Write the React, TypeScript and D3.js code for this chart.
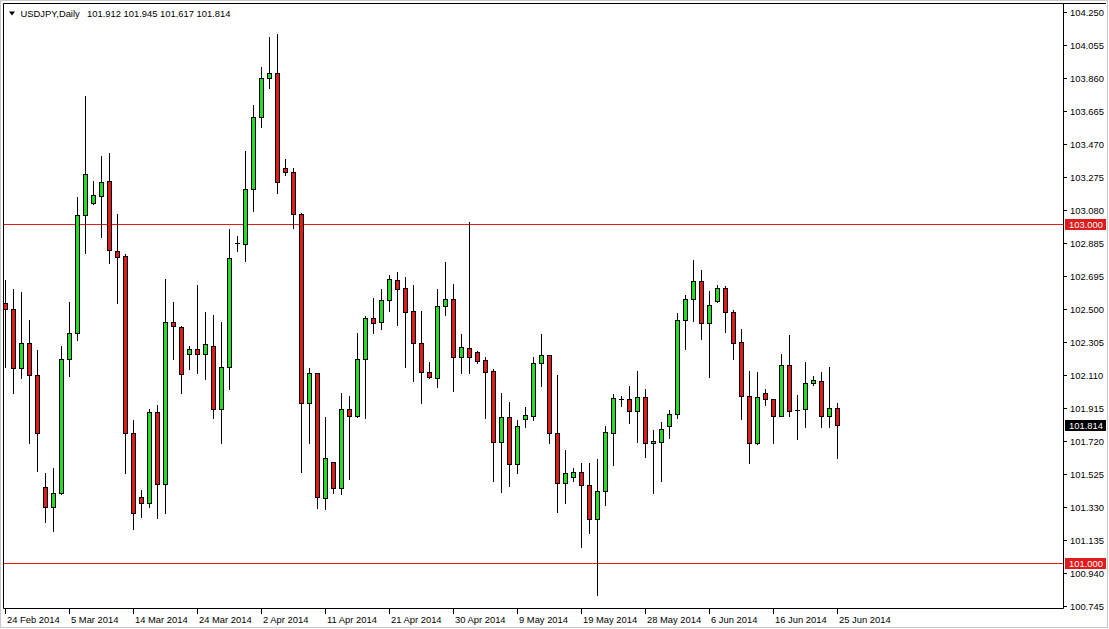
import React from "react";
import * as d3 from "d3";

const symbolTitle = "USDJPY,Daily";
const headerValues = "101.912 101.945 101.617 101.814";

const openP = [
  102.532, 102.497, 102.149, 102.296, 102.107, 101.45, 101.329, 101.411, 102.202, 102.355,
  103.051, 103.122, 103.168, 103.252, 102.841, 102.811, 101.765, 101.388, 101.352, 101.889,
  101.464, 102.424, 102.394, 102.233, 102.261, 102.233, 102.282, 101.909, 102.155, 102.886,
  102.88, 103.205, 103.63, 103.86, 103.889, 103.329, 103.309, 103.057, 101.942, 102.119,
  101.382, 101.594, 101.441, 101.907, 101.867, 102.202, 102.444, 102.424, 102.552, 102.67,
  102.621, 102.487, 102.296, 102.125, 102.09, 102.516, 102.556, 102.217, 102.267, 102.247,
  102.198, 102.133, 101.716, 101.86, 101.582, 101.848, 101.869, 102.178, 102.225, 101.765,
  101.474, 101.509, 101.537, 101.458, 101.258, 101.425, 101.765, 101.968, 101.968, 101.899,
  101.979, 101.706, 101.716, 101.81, 101.877, 102.434, 102.556, 102.662, 102.414, 102.544,
  102.621, 102.479, 102.302, 101.987, 101.706, 102.001, 101.966, 101.869, 102.166, 101.903,
  101.907, 102.06, 102.072, 101.869, 101.912,
];
const highP = [
  102.67, 102.615, 102.601, 102.434, 102.257, 101.533, 101.559, 102.28, 102.538, 103.161,
  103.757, 103.254, 103.401, 103.421, 103.059, 102.823, 101.844, 101.431, 101.907, 101.932,
  102.674, 102.538, 102.398, 102.28, 102.638, 102.479, 102.463, 102.422, 102.971, 102.929,
  103.431, 103.702, 103.924, 104.105, 104.121, 103.382, 103.329, 103.067, 102.149, 102.122,
  101.863, 101.598, 102.005, 101.985, 102.359, 102.457, 102.562, 102.615, 102.699, 102.719,
  102.686, 102.64, 102.487, 102.184, 102.615, 102.778, 102.646, 102.351, 103.014, 102.25,
  102.214, 102.143, 102.001, 101.952, 101.844, 101.919, 102.217, 102.351, 102.23, 102.109,
  101.667, 101.559, 101.588, 101.592, 101.612, 101.808, 101.997, 101.987, 102.044, 102.135,
  102.025, 101.785, 101.834, 101.903, 102.473, 102.581, 102.788, 102.729, 102.605, 102.638,
  102.634, 102.493, 102.379, 102.135, 102.125, 102.025, 101.97, 102.233, 102.345, 101.991,
  102.184, 102.103, 102.127, 102.158, 101.945,
];
const lowP = [
  102.158, 102.003, 102.091, 101.71, 101.545, 101.244, 101.191, 101.405, 102.103, 102.316,
  102.831, 103.118, 102.925, 102.768, 102.536, 101.529, 101.199, 101.273, 101.332, 101.267,
  101.293, 102.202, 102.005, 102.143, 102.119, 102.084, 101.854, 101.71, 102.025, 102.839,
  102.782, 103.077, 103.574, 103.801, 103.185, 103.289, 102.978, 101.539, 101.71, 101.323,
  101.317, 101.415, 101.407, 101.494, 101.86, 101.854, 102.355, 102.379, 102.489, 102.404,
  102.155, 102.076, 101.946, 102.092, 102.037, 102.463, 102.017, 102.119, 102.123, 102.178,
  101.854, 101.486, 101.421, 101.454, 101.533, 101.801, 101.844, 102.044, 101.71, 101.303,
  101.352, 101.484, 101.093, 101.179, 100.811, 101.342, 101.578, 101.928, 101.828, 101.716,
  101.627, 101.415, 101.486, 101.739, 101.854, 102.261, 102.429, 102.322, 102.099, 102.54,
  102.365, 102.204, 101.85, 101.592, 101.7, 101.932, 101.71, 101.865, 101.869, 101.73,
  101.804, 102.052, 101.804, 101.804, 101.617,
];
const closeP = [
  102.497, 102.149, 102.296, 102.107, 101.765, 101.329, 101.411, 102.202, 102.355, 103.051,
  103.293, 103.171, 103.246, 102.847, 102.807, 101.765, 101.293, 101.352, 101.889, 101.464,
  102.424, 102.398, 102.113, 102.261, 102.233, 102.29, 101.909, 102.155, 102.798, 102.886,
  103.205, 103.63, 103.86, 103.889, 103.246, 103.309, 103.057, 101.942, 102.119, 101.388,
  101.618, 101.441, 101.907, 101.867, 102.202, 102.444, 102.418, 102.552, 102.674, 102.615,
  102.483, 102.3, 102.125, 102.096, 102.516, 102.556, 102.217, 102.273, 102.217, 102.194,
  102.129, 101.716, 101.86, 101.582, 101.808, 101.873, 102.178, 102.225, 101.769, 101.474,
  101.529, 101.537, 101.458, 101.258, 101.425, 101.771, 101.972, 101.968, 101.899, 101.979,
  101.706, 101.718, 101.789, 101.879, 102.434, 102.556, 102.662, 102.414, 102.52, 102.621,
  102.479, 102.296, 101.987, 101.706, 101.981, 101.966, 101.869, 102.166, 101.899, 101.903,
  102.064, 102.078, 101.869, 101.913, 101.814,
];

const priceTicks = [
  104.25, 104.055, 103.86, 103.665, 103.47, 103.275, 103.08, 102.885, 102.695, 102.5,
  102.305, 102.11, 101.915, 101.72, 101.525, 101.33, 101.135, 100.94, 100.745,
];
const levelLines = [103.0, 101.0];
const lastPrice = 101.814;
const firstDate = new Date(2014, 1, 24);
const labelEvery = 8;

// trading calendar of this broker: every day except Saturday
function buildDates(start: Date, n: number): Date[] {
  const out: Date[] = [];
  let d = new Date(start);
  while (out.length < n) {
    if (d.getDay() !== 6) out.push(new Date(d));
    d = d3.timeDay.offset(d, 1);
  }
  return out;
}

const W = 1109;
const H = 629;
const FONT = "'Liberation Sans', Arial, sans-serif";
const FS = 9.4;
const GREEN = "#22dd22";
const RED = "#e01b1b";
const LEVEL = "#e01b1b";

export default function App() {
  const n = openP.length;
  const dates = buildDates(firstDate, n);
  const fmt = d3.timeFormat("%-d %b %Y");

  const plotL = 3.5, plotR = 1063.5, plotT = 3.5, plotB = 608.5;

  const x = d3.scaleLinear().domain([0, n - 1]).range([5, 5 + 8 * (n - 1)]);
  const y = d3.scaleLinear().domain([101, 103]).range([563, 224]);
  const py = (v: number) => Math.round(y(v));

  const candles = d3.range(n).map((i) => {
    const c = Math.round(x(i));
    const o = openP[i], h = highP[i], l = lowP[i], cl = closeP[i];
    const yo = py(o), yc = py(cl), yh = py(h), yl = py(l);
    const top = Math.min(yo, yc), bot = Math.max(yo, yc);
    const bull = cl > o;
    const doji = bot - top < 1;
    return (
      <g key={i}>
        <line x1={c + 0.5} x2={c + 0.5} y1={yh} y2={yl + 1} stroke="#000" strokeWidth={1} />
        {doji ? (
          <line x1={c - 2} x2={c + 3} y1={top + 0.5} y2={top + 0.5} stroke="#000" strokeWidth={1} />
        ) : (
          <rect
            x={c - 1.5}
            y={top + 0.5}
            width={4}
            height={bot - top}
            fill={bull ? GREEN : RED}
            stroke="#000"
            strokeWidth={1}
          />
        )}
      </g>
    );
  });

  const dateTicks = d3.range(0, n, labelEvery);

  return (
    <svg
      width={W}
      height={H}
      style={{ position: "absolute", left: 0, top: 0, background: "#fff" }}
      fontFamily={FONT}
      fontSize={FS}
    >
      <rect x={0.5} y={0.5} width={W - 2} height={H - 2} fill="#fff" stroke="#c8c8c8" />
      <defs>
        <clipPath id="plot">
          <rect x={plotL} y={plotT} width={plotR - plotL} height={plotB - plotT} />
        </clipPath>
      </defs>

      <g clipPath="url(#plot)">
        {levelLines.map((v) => (
          <line key={v} x1={plotL} x2={plotR} y1={py(v) + 0.5} y2={py(v) + 0.5} stroke={LEVEL} strokeWidth={1} />
        ))}
        {candles}
      </g>

      {/* frame */}
      <line x1={plotL} x2={W - 3} y1={plotT} y2={plotT} stroke="#000" />
      <line x1={plotL} x2={plotL} y1={plotT} y2={plotB} stroke="#000" />
      <line x1={plotL} x2={plotR} y1={plotB} y2={plotB} stroke="#000" />
      <line x1={plotR} x2={plotR} y1={plotT} y2={plotB} stroke="#000" />

      {/* price axis */}
      {priceTicks.map((v) => {
        const yy = py(v) + 0.5;
        return (
          <g key={v}>
            <line x1={1064} x2={1067} y1={yy} y2={yy} stroke="#000" />
            <text x={1070} y={yy} dy="0.35em" fill="#000">
              {d3.format(".3f")(v)}
            </text>
          </g>
        );
      })}
      {levelLines.map((v) => {
        const yy = py(v) + 0.5;
        return (
          <g key={"lv" + v}>
            <rect x={1065} y={yy - 5.5} width={41} height={11} fill={LEVEL} />
            <text x={1069} y={yy} dy="0.35em" fill="#fff">
              {d3.format(".3f")(v)}
            </text>
          </g>
        );
      })}
      <g>
        <rect x={1065} y={py(lastPrice) - 5} width={41} height={11} fill="#000" />
        <text x={1069} y={py(lastPrice) + 0.5} dy="0.35em" fill="#fff">
          {d3.format(".3f")(lastPrice)}
        </text>
      </g>

      {/* time axis */}
      {dateTicks.map((i) => {
        const c = Math.round(x(i)) + 0.5;
        return (
          <g key={"d" + i}>
            <line x1={c} x2={c} y1={609} y2={614} stroke="#000" />
            <text x={c + 1.5} y={619.5} dy="0.35em" fill="#000">
              {fmt(dates[i])}
            </text>
          </g>
        );
      })}

      {/* header */}
      <path d="M9,11.5 L15,11.5 L12,15.5 Z" fill="#000" />
      <text x={20.5} y={13.5} dy="0.35em" fill="#000">
        {symbolTitle}
      </text>
      <text x={87} y={13.5} dy="0.35em" fill="#000">
        {headerValues}
      </text>
    </svg>
  );
}
